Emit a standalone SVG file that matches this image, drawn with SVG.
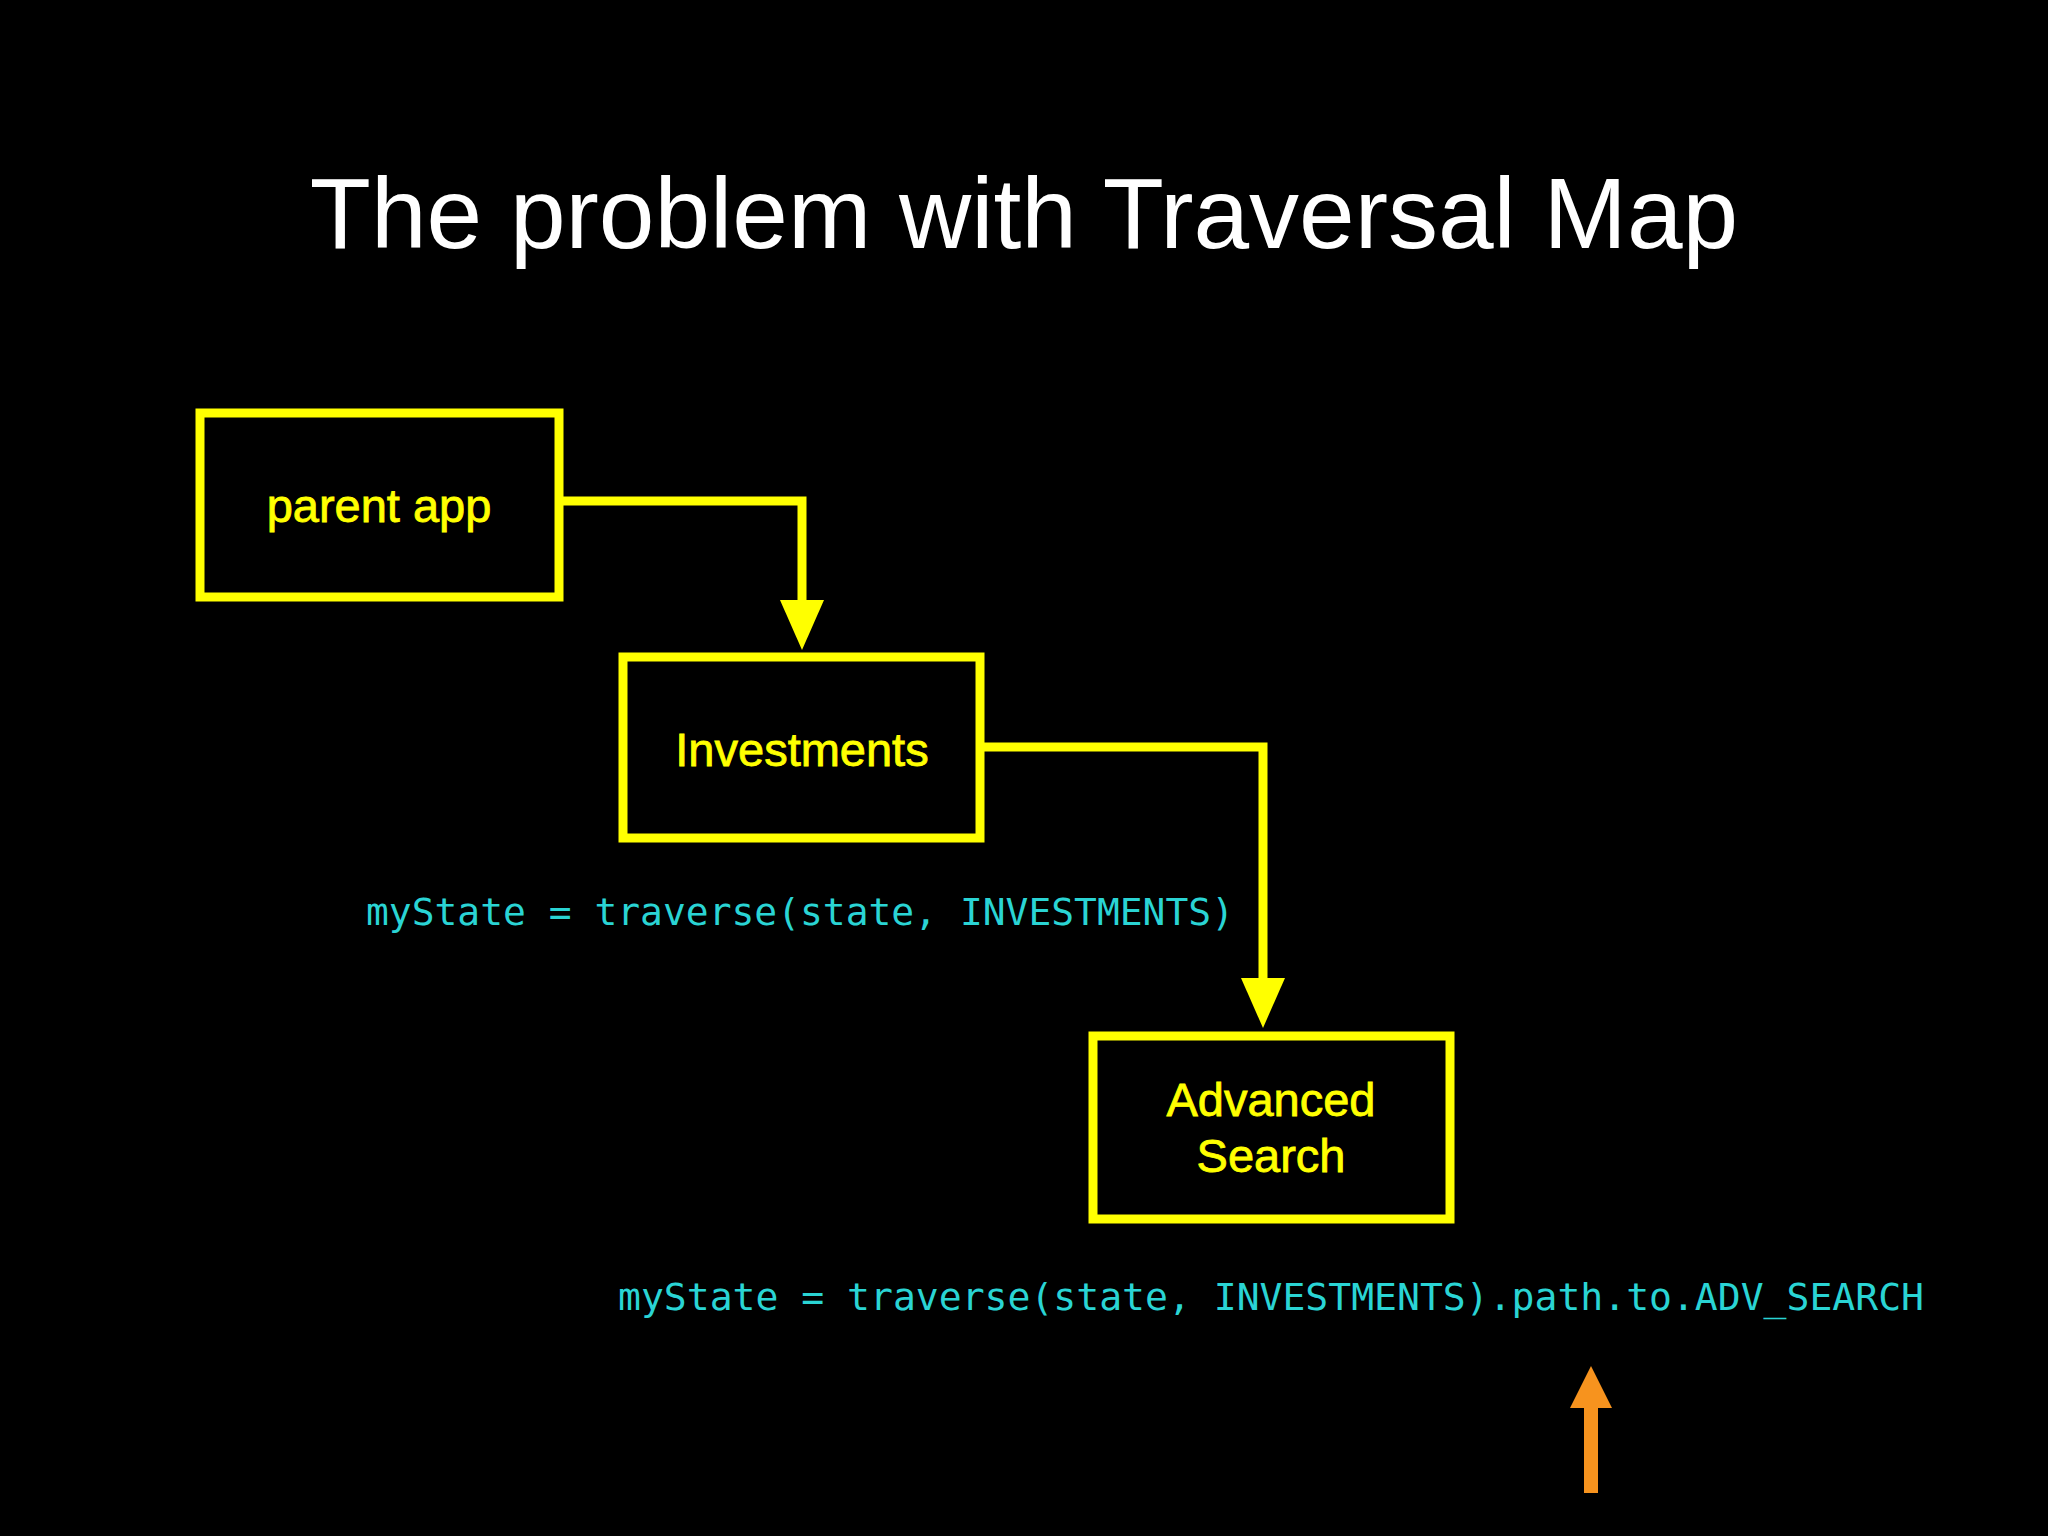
<svg xmlns="http://www.w3.org/2000/svg" width="2048" height="1536" viewBox="0 0 2048 1536">
<style>
.box{fill:none;stroke:#ffff00;stroke-width:9}
.lbl{fill:#ffff00;font-family:"Liberation Sans",Arial,sans-serif;font-size:47px;text-anchor:middle;stroke:#ffff00;stroke-width:0.8}
.code{fill:#2ad4d4;font-family:"DejaVu Sans Mono","Liberation Mono",monospace;font-size:38px}
.con{fill:none;stroke:#ffff00;stroke-width:9}
</style>
<rect width="2048" height="1536" fill="#000"/>
<text x="1024" y="248" fill="#fff" font-family="Liberation Sans,Arial,sans-serif" font-size="100" text-anchor="middle">The problem with Traversal Map</text>
<g id="connectors">
<polyline class="con" points="559,501 802,501 802,606"/>
<polygon points="780,600 824,600 802,650" fill="#ffff00"/>
<polyline class="con" points="980,747 1263,747 1263,985"/>
<polygon points="1241,978 1285,978 1263,1028" fill="#ffff00"/>
</g>
<g id="parent-app"><rect class="box" x="200" y="413" width="359" height="184"/><text class="lbl" x="379" y="522">parent app</text></g>
<g id="investments"><rect class="box" x="623" y="657" width="357" height="181"/><text class="lbl" x="802" y="766">Investments</text></g>
<g id="advanced-search"><rect class="box" x="1093" y="1036" width="357" height="183"/><text class="lbl" x="1271" y="1116">Advanced</text><text class="lbl" x="1271" y="1172">Search</text></g>
<text class="code" x="366" y="925" textLength="868" lengthAdjust="spacingAndGlyphs">myState = traverse(state, INVESTMENTS)</text>
<text class="code" x="618" y="1310" textLength="1306" lengthAdjust="spacingAndGlyphs">myState = traverse(state, INVESTMENTS).path.to.ADV_SEARCH</text>
<g id="orange-arrow">
<rect x="1584" y="1400" width="14" height="93" fill="#f7931e"/>
<polygon points="1570,1408 1612,1408 1591,1366" fill="#f7931e"/>
</g>
</svg>
